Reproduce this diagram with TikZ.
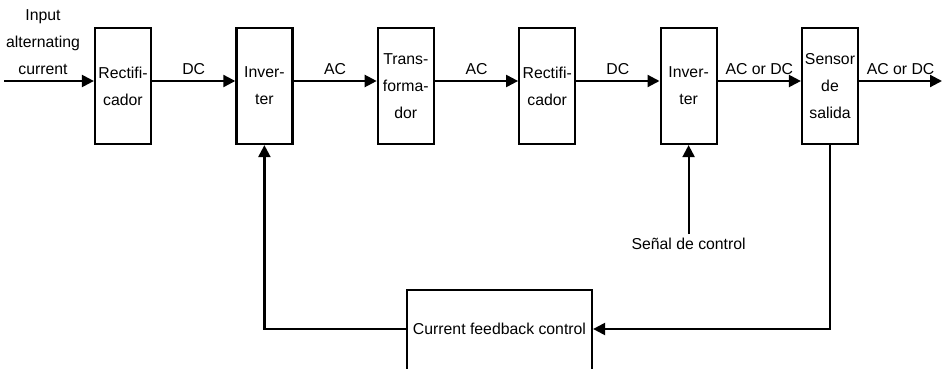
\documentclass[tikz,border=0pt]{standalone}
\usepackage{fontspec}
\setmainfont{Liberation Sans}
\usetikzlibrary{arrows.meta,positioning}

\begin{document}
\begin{tikzpicture}[
  x=1pt, y=1pt,
  font=\fontsize{15.8pt}{27pt}\selectfont,
  blk/.style={draw, line width=2.2pt, minimum width=56pt, minimum height=116pt, inner sep=0pt, align=center},
  flow/.style={line width=2.2pt, -{Triangle[length=12pt,width=12pt]}},
  lbl/.style={above, inner sep=5pt},
  node distance=83.2pt
]
\useasboundingbox (0,0) rectangle (948,368);
\node[blk] (rect1) at (123,282) {Rectifi-\\cador};
\node[blk, right=of rect1] (inv1) {Inver-\\ter};
\node[blk, right=of inv1] (trafo) {Trans-\\forma-\\dor};
\node[blk, right=of trafo] (rect2) {Rectifi-\\cador};
\node[blk, right=of rect2] (inv2) {Inver-\\ter};
\node[blk, right=of inv2] (sens) {Sensor\\de\\salida};
\node[blk, minimum width=185pt, minimum height=82pt] (fbk) at (499.5,37) {};
\node (fbtxt) at (fbk.center |- 0,39) {Current feedback control};
\node[align=center] (inp) at (43,326) {Input\\alternating\\current};
\node[inner sep=4pt] (sig) at (inv2 |- 0,124) {Señal de control};
\coordinate (src) at (4,287);
\coordinate (out) at (942,287);
\coordinate (fbin) at (fbk.east |- fbtxt);
\coordinate (fbout) at (fbk.west |- fbtxt);
\draw[flow] (src) -- ([yshift=5pt]rect1.west);
\draw[flow] ([yshift=5pt]rect1.east) -- node[lbl] {DC} ([yshift=5pt]inv1.west);
\draw[flow] ([yshift=5pt]inv1.east) -- node[lbl] {AC} ([yshift=5pt]trafo.west);
\draw[flow] ([yshift=5pt]trafo.east) -- node[lbl] {AC} ([yshift=5pt]rect2.west);
\draw[flow] ([yshift=5pt]rect2.east) -- node[lbl] {DC} ([yshift=5pt]inv2.west);
\draw[flow] ([yshift=5pt]inv2.east) -- node[lbl] {AC or DC} ([yshift=5pt]sens.west);
\draw[flow] ([yshift=5pt]sens.east) -- node[lbl] {AC or DC} (out);
\draw[flow] (sig.north) -- (inv2.south);
\draw[flow] (sens.south) |- (fbin);
\draw[flow] (fbout) -| (inv1.south);
\end{tikzpicture}
\end{document}
